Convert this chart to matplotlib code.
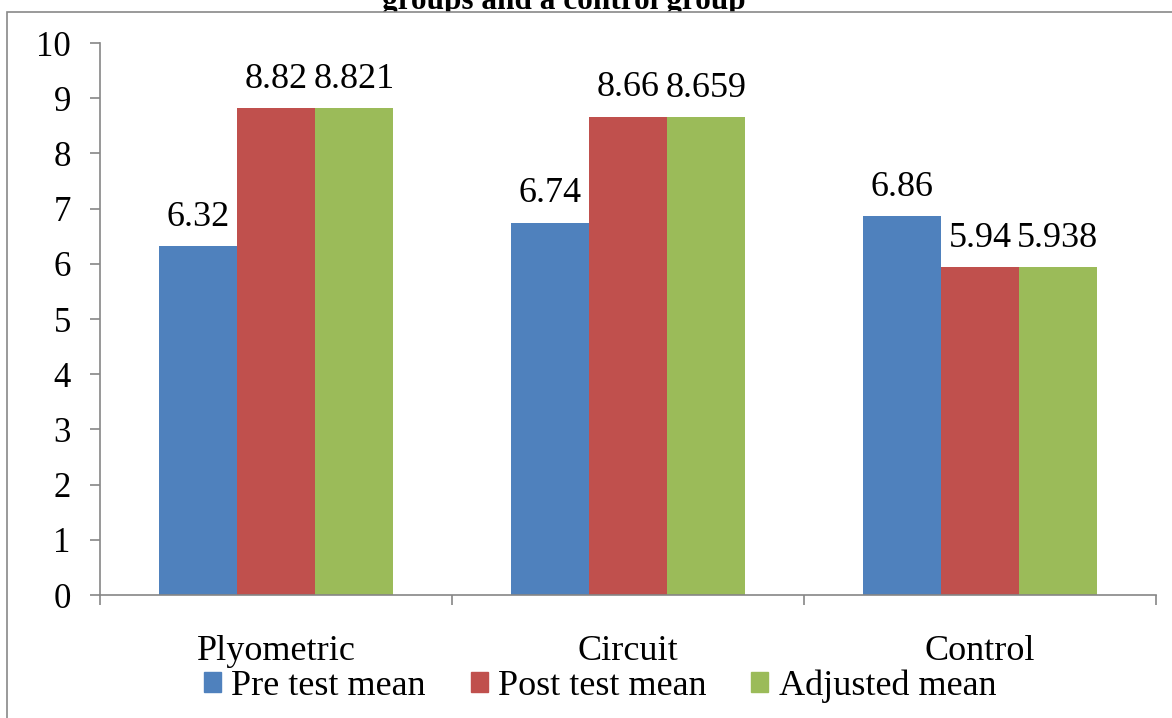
import matplotlib.pyplot as plt
from matplotlib.patches import Rectangle, Patch
import numpy as np

plt.rcParams['font.family'] = ['Liberation Serif', 'DejaVu Serif']

groups = ["Plyometric", "Circuit", "Control"]
series_names = ["Pre test mean", "Post test mean", "Adjusted mean"]
pre_test = [6.32, 6.74, 6.86]
post_test = [8.82, 8.66, 5.94]
adjusted = [8.821, 8.659, 5.938]
pre_labels = ["6.32", "6.74", "6.86"]
post_labels = ["8.82", "8.66", "5.94"]
adj_labels = ["8.821", "8.659", "5.938"]
y_ticks = [0, 1, 2, 3, 4, 5, 6, 7, 8, 9, 10]

colors = ["#4F81BD", "#C0504D", "#9BBB59"]
grey = "#868686"

fig = plt.figure(figsize=(11.72, 7.18), dpi=100)

# title of the document, mostly hidden behind the chart frame
fig.text(0.481, 1 - 9 / 718, "groups and a control group", ha="center",
         va="baseline", fontsize=22.5, fontweight="bold", zorder=-2)
frame = Rectangle((7 / 1172, -0.1), 1.1, 1 - 12 / 718 + 0.1,
                  transform=fig.transFigure, facecolor="white",
                  edgecolor="#898989", linewidth=1.2, zorder=-1)
fig.patches.append(frame)

ax = fig.add_axes([100 / 1172, 1 - 595 / 718, 1056 / 1172, 552 / 718])
ax.patch.set_alpha(0)

x = np.arange(len(groups))
w = 0.221
all_vals = [pre_test, post_test, adjusted]
all_labels = [pre_labels, post_labels, adj_labels]
for i in range(3):
    bars = ax.bar(x + (i - 1) * w, all_vals[i], w, color=colors[i],
                  label=series_names[i])
    for b, lab in zip(bars, all_labels[i]):
        ax.annotate(lab, (b.get_x() + b.get_width() / 2, b.get_height()),
                    xytext=(0, 9), textcoords="offset points",
                    ha="center", va="bottom", fontsize=26)

ax.set_xlim(-0.5, 2.5)
ax.set_ylim(0, 10)
ax.set_yticks(y_ticks)
ax.tick_params(axis="y", direction="out", length=7, width=1.2, color=grey,
               labelsize=25, pad=14)
ax.set_xticks([-0.5, 0.5, 1.5, 2.5])
ax.set_xticklabels([])
ax.tick_params(axis="x", which="major", direction="out", length=7,
               width=1.2, color=grey)
ax.set_xticks(x, minor=True)
ax.set_xticklabels(groups, minor=True)
ax.tick_params(axis="x", which="minor", length=0, labelsize=26, pad=29)

for s in ["top", "right"]:
    ax.spines[s].set_visible(False)
for s in ["left", "bottom"]:
    ax.spines[s].set_color(grey)
    ax.spines[s].set_linewidth(1.2)

handles = [Patch(color=c) for c in colors]
fig.legend(handles, series_names, loc="center", ncol=3,
           bbox_to_anchor=(600 / 1172, 1 - 686 / 718), frameon=False,
           fontsize=26, handlelength=0.47, handleheight=0.47,
           handletextpad=0.28, columnspacing=1.25, borderpad=0)

fig.savefig("out.png", dpi=100)
